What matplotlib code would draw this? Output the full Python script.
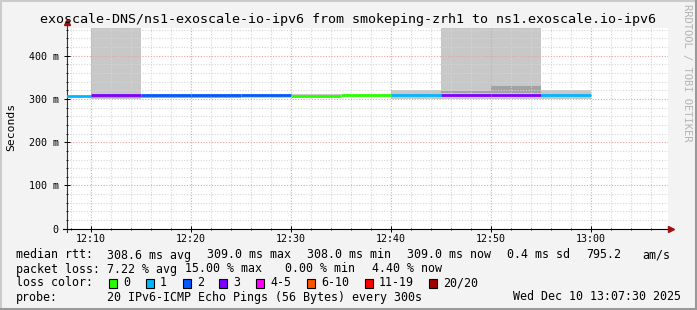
import numpy as np
import matplotlib
matplotlib.use('Agg')
import matplotlib.pyplot as plt
from matplotlib.patches import Rectangle
from matplotlib.lines import Line2D

W, H = 697, 310

# 5 minute steps, minutes after 12:00
start_min = [5, 10, 15, 20, 25, 30, 35, 40, 45, 50, 55]
loss_count = [1, 3, 2, 2, 2, 0, 0, 1, 3, 3, 1]
median_ms = [306.5, 309, 309, 309, 309, 306.5, 309, 309, 309, 309, 309]

# smoke (ping spread), light outer band and darker core
nan = np.nan
smoke_lo = [nan, 300, nan, nan, 302, 306, nan, 300, 300, 300, 300]
smoke_hi = [nan, 470, nan, nan, 307, 311, nan, 321, 470, 470, 321]
core_lo = [nan, 303, 302, 302, nan, nan, nan, nan, 314, 314, nan]
core_hi = [nan, 307, 307, 307, nan, nan, nan, nan, 319, 330, nan]

tick_min = [10, 20, 30, 40, 50, 60]
tick_labels = ['12:10', '12:20', '12:30', '12:40', '12:50', '13:00']
y_ticks = [0, 100, 200, 300, 400]

loss_names = ['0', '1', '2', '3', '4-5', '6-10', '11-19', '20/20']
loss_colors = ['#26ff00', '#00b8ff', '#0059ff', '#7e00ff',
               '#ff00ff', '#ff5500', '#ff0000', '#a10000']

mono = 'DejaVu Sans Mono'


def fx(x):
    return x / W


def fy(y):
    return 1 - y / H


fig = plt.figure(figsize=(W / 100, H / 100), dpi=100)
fig.patch.set_facecolor('#f3f3f3')

# rrdtool style border
fig.add_artist(Line2D([0, 1], [1 - 1 / H, 1 - 1 / H], color='#cbcbcb', lw=1.5))
fig.add_artist(Line2D([1 / W, 1 / W], [0, 1], color='#cbcbcb', lw=1.5))
fig.add_artist(Line2D([0, 1], [1.5 / H, 1.5 / H], color='#999999', lw=2.2))
fig.add_artist(Line2D([1 - 1.5 / W, 1 - 1.5 / W], [0, 1], color='#999999', lw=2.2))

x0, x1 = 67, 668
ytop, ybot = 28, 228.7
ax = fig.add_axes([fx(x0), fy(ybot), (x1 - x0) / W, (ybot - ytop) / H])
ax.set_facecolor('white')
ax.set_xlim(7.6, 7.6 + (x1 - x0) / 10)
ax.set_ylim(0, (ybot - ytop) / 0.4325)

starts = np.array(start_min, dtype=float)
lo = np.array(smoke_lo)
hi = np.array(smoke_hi)
clo = np.array(core_lo)
chi = np.array(core_hi)
ok = ~np.isnan(lo)
ax.bar(starts[ok], hi[ok] - lo[ok], bottom=lo[ok], width=5, align='edge',
       color='#c8c8c8', linewidth=0, zorder=1)
ok = ~np.isnan(clo)
ax.bar(starts[ok], chi[ok] - clo[ok], bottom=clo[ok], width=5, align='edge',
       color='#a2a2a2', linewidth=0, zorder=1.1)

# grid
ax.set_xticks(tick_min)
ax.set_xticks(np.arange(8, 68, 2), minor=True)
ax.set_yticks(y_ticks)
ax.set_yticks(np.arange(0, 464, 20), minor=True)
ax.grid(which='minor', color='#d6d6d6', linestyle=(0, (1, 1.5)), linewidth=0.8, zorder=2)
ax.grid(which='major', color='#e9a0a0', linestyle=(0, (1, 1.5)), linewidth=0.8, zorder=2)
ax.set_axisbelow(False)
for g in ax.get_xgridlines() + ax.get_ygridlines():
    g.set_zorder(2)

# median rtt coloured by loss
for s, m, l in zip(start_min, median_ms, loss_count):
    ci = l if l < 4 else (4 if l <= 5 else (5 if l <= 10 else (6 if l < 20 else 7)))
    ax.hlines(m, s, s + 5, colors=loss_colors[ci], linewidth=2.0, zorder=3)

ax.set_xticklabels(tick_labels, fontfamily=mono, fontsize=7.2)
ax.set_yticklabels([('%d m' % v) if v else '0' for v in y_ticks],
                   fontfamily=mono, fontsize=7.2)
ax.tick_params(which='major', direction='inout', length=4, width=0.7)
ax.tick_params(which='minor', direction='inout', length=2, width=0.6)
ax.tick_params(axis='x', pad=1.5)
ax.tick_params(axis='y', pad=4)

for side in ['top', 'right']:
    ax.spines[side].set_visible(False)
ax.spines['left'].set_color('#333333')
ax.spines['bottom'].set_color('black')
ax.spines['bottom'].set_bounds(7.2, 67.9)
ax.spines['left'].set_bounds(-8, 475)
ax.plot([67.95], [0], marker='>', color='#a01010', markersize=4.5, clip_on=False,
        zorder=5)
ax.plot([7.6], [478], marker='^', color='#a01010', markersize=4.5, clip_on=False,
        zorder=5)

fig.text(fx(348.5), fy(19), 'exoscale-DNS/ns1-exoscale-io-ipv6 from smokeping-zrh1 to ns1.exoscale.io-ipv6',
         ha='center', va='center', fontfamily=mono, fontsize=9.6)
fig.text(fx(11), fy(127), 'Seconds', rotation=90, ha='center', va='center',
         fontfamily=mono, fontsize=8.2)
fig.text(fx(687), fy(4), 'RRDTOOL / TOBI OETIKER', rotation=270, ha='center', va='top',
         fontfamily=mono, fontsize=7.5, color='#b4b4b4')

fs = 8.4
row1, row2, row3, row4 = 255, 269, 283, 297


def put(x, y, s):
    fig.text(fx(x), fy(y), s, ha='left', va='center', fontfamily=mono, fontsize=fs)


put(16, row1, 'median rtt:')
put(107, row1, '308.6 ms avg')
put(207, row1, '309.0 ms max')
put(307, row1, '308.0 ms min')
put(407, row1, '309.0 ms now')
put(507, row1, '0.4 ms sd')
put(586, row1, '795.2')
put(642, row1, 'am/s')

put(16, row2, 'packet loss:')
put(107, row2, '7.22 % avg')
put(185, row2, '15.00 % max')
put(285, row2, '0.00 % min')
put(372, row2, '4.40 % now')

put(16, row3, 'loss color:')
box_x = [109, 146, 183, 219, 256, 307, 365, 429]
for bx, name, c in zip(box_x, loss_names, loss_colors):
    fig.add_artist(Rectangle((fx(bx), fy(row3 + 4.5)), 8 / W, 9 / H,
                             facecolor=c, edgecolor='black', linewidth=0.8))
    put(bx + 14, row3, name)

put(16, row4, 'probe:')
put(107, row4, '20 IPv6-ICMP Echo Pings (56 Bytes) every 300s')
put(513, row4, 'Wed Dec 10 13:07:30 2025')

fig.savefig('out.png', dpi=100, facecolor=fig.get_facecolor())
